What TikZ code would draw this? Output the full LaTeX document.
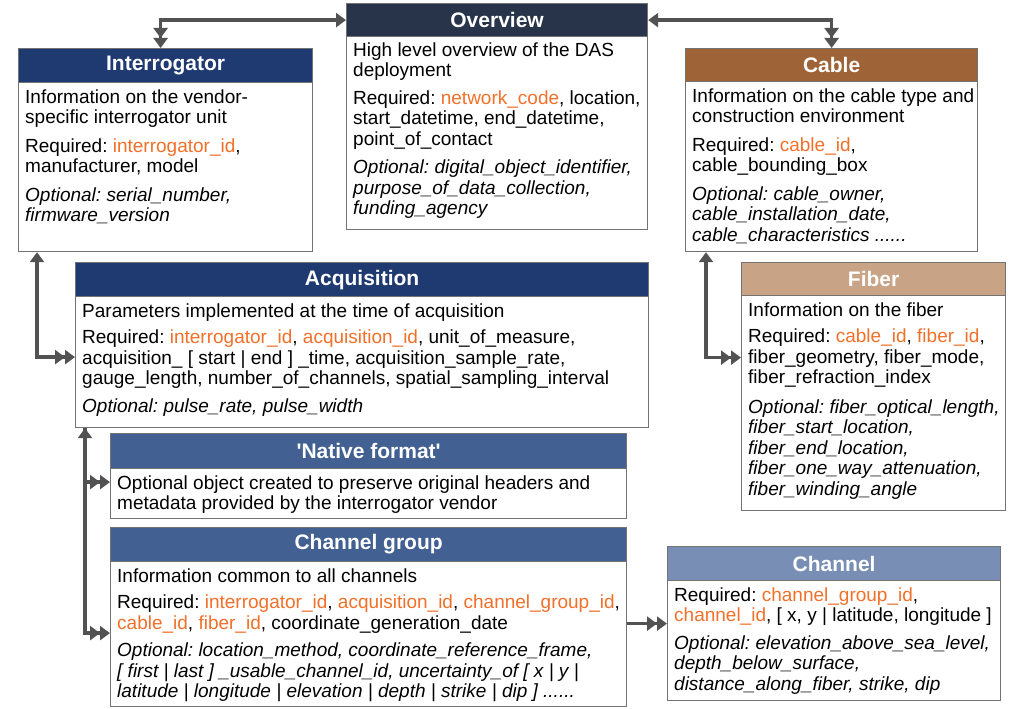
\documentclass[tikz,border=0pt]{standalone}
\usepackage{fontspec}
\setmainfont{Liberation Sans}[Ligatures=TeXOff]
\usetikzlibrary{arrows.meta}

\definecolor{navyhead}{RGB}{31,58,112}
\definecolor{slatehead}{RGB}{40,52,74}
\definecolor{cablehead}{RGB}{158,100,56}
\definecolor{fiberhead}{RGB}{201,163,134}
\definecolor{grouphead}{RGB}{66,96,146}
\definecolor{chanhead}{RGB}{120,142,180}
\definecolor{keyorange}{RGB}{242,112,42}
\definecolor{linkgray}{RGB}{82,82,82}
\definecolor{framegray}{RGB}{115,115,115}

\newcommand{\key}[1]{\textcolor{keyorange}{#1}}
\newcommand{\opt}[1]{\textit{#1}}
\frenchspacing

\begin{document}
\begin{tikzpicture}[x=1pt,y=1pt,>={Triangle[length=10pt,width=14pt]}]
\tikzstyle{every node}+=[inner sep=0pt]
\tikzstyle{frame}=[draw=framegray, line width=1.2pt, fill=white, anchor=north west]
\tikzstyle{head}=[draw=framegray, line width=1.2pt, anchor=north west, text=white, minimum height=34pt, font=\fontsize{21}{24}\selectfont\bfseries]
\tikzstyle{info}=[anchor=north west, align=left, font=\fontsize{19}{20.5}\selectfont]
\tikzstyle{link}=[draw=linkgray, line width=3.5pt]
\useasboundingbox (0,0) rectangle (1009,-709);
% Overview
\node[frame, minimum width=301pt, minimum height=226pt] (ov) at (346,-3) {};
\node[head, fill=slatehead, minimum width=301pt, minimum height=33pt] (ov-head) at (ov.north west) {Overview};
\node[info] (ov-text) at ([xshift=7,yshift=-5]ov-head.south west) {High level overview of the DAS\\
deployment\\[7pt]
Required: \key{network\_code}, location,\\
start\_datetime, end\_datetime,\\
point\_of\_contact\\[8pt]
\opt{Optional: digital\_object\_identifier,}\\
\opt{purpose\_of\_data\_collection,}\\
\opt{funding\_agency}};
% Interrogator
\node[frame, minimum width=294pt, minimum height=203pt] (int) at (18,-48) {};
\node[head, fill=navyhead, minimum width=294pt] (int-head) at (int.north west) {Interrogator};
\node[info] (int-text) at ([xshift=7,yshift=-6]int-head.south west) {Information on the vendor-\\
specific interrogator unit\\[8pt]
Required: \key{interrogator\_id},\\
manufacturer, model\\[8pt]
\opt{Optional: serial\_number,}\\
\opt{firmware\_version}};
% Cable
\node[frame, minimum width=292pt, minimum height=203pt] (cab) at (685,-48) {};
\node[head, fill=cablehead, minimum width=292pt, minimum height=33pt] (cab-head) at (cab.north west) {Cable};
\node[info] (cab-text) at ([xshift=7,yshift=-6]cab-head.south west) {Information on the cable type and\\
construction environment\\[8pt]
Required: \key{cable\_id},\\
cable\_bounding\_box\\[8pt]
\opt{Optional: cable\_owner,}\\
\opt{cable\_installation\_date,}\\
\opt{cable\_characteristics ......}};
% Acquisition
\node[frame, minimum width=573pt, minimum height=165pt] (acq) at (75,-262) {};
\node[head, fill=navyhead, minimum width=573pt] (acq-head) at (acq.north west) {Acquisition};
\node[info] (acq-text) at ([xshift=7,yshift=-6]acq-head.south west) {Parameters implemented at the time of acquisition\\[6pt]
Required: \key{interrogator\_id}, \key{acquisition\_id}, unit\_of\_measure,\\
acquisition\_ [ start | end ] \_time, acquisition\_sample\_rate,\\
gauge\_length, number\_of\_channels, spatial\_sampling\_interval\\[7pt]
\opt{Optional: pulse\_rate, pulse\_width}};
% Fiber
\node[frame, minimum width=264pt, minimum height=248pt] (fib) at (741,-262) {};
\node[head, fill=fiberhead, minimum width=264pt, minimum height=33pt] (fib-head) at (fib.north west) {Fiber};
\node[info] (fib-text) at ([xshift=7,yshift=-6]fib-head.south west) {Information on the fiber\\[6pt]
Required: \key{cable\_id}, \key{fiber\_id},\\
fiber\_geometry, fiber\_mode,\\
fiber\_refraction\_index\\[9pt]
\opt{Optional: fiber\_optical\_length,}\\
\opt{fiber\_start\_location,}\\
\opt{fiber\_end\_location,}\\
\opt{fiber\_one\_way\_attenuation,}\\
\opt{fiber\_winding\_angle}};
% Native format
\node[frame, minimum width=516pt, minimum height=85pt] (nat) at (110,-433) {};
\node[head, fill=grouphead, minimum width=516pt, minimum height=35pt] (nat-head) at (nat.north west) {'Native format'};
\node[info] (nat-text) at ([xshift=7,yshift=-6]nat-head.south west) {Optional object created to preserve original headers and\\
metadata provided by the interrogator vendor};
% Channel group
\node[frame, minimum width=516pt, minimum height=179pt] (cg) at (110,-527) {};
\node[head, fill=grouphead, minimum width=516pt] (cg-head) at (cg.north west) {Channel group};
\node[info] (cg-text) at ([xshift=7,yshift=-6]cg-head.south west) {Information common to all channels\\[6pt]
Required: \key{interrogator\_id}, \key{acquisition\_id}, \key{channel\_group\_id},\\
\key{cable\_id}, \key{fiber\_id}, coordinate\_generation\_date\\[7pt]
\opt{Optional: location\_method, coordinate\_reference\_frame,}\\
\opt{[ first | last ] \_usable\_channel\_id, uncertainty\_of [ x | y |}\\
\opt{latitude | longitude | elevation | depth | strike | dip ] ......}};
% Channel
\node[frame, minimum width=333pt, minimum height=154pt] (ch) at (667,-546) {};
\node[head, fill=chanhead, minimum width=333pt] (ch-head) at (ch.north west) {Channel};
\node[info] (ch-text) at ([xshift=7,yshift=-6]ch-head.south west) {Required: \key{channel\_group\_id},\\
\key{channel\_id}, [ x, y | latitude, longitude ]\\[7pt]
\opt{Optional: elevation\_above\_sea\_level,}\\
\opt{depth\_below\_surface,}\\
\opt{distance\_along\_fiber, strike, dip}};
% connectors
\draw[link,<->>] (ov-head.west) -| ([xshift=-5]int.north);
\draw[link,<->>] (ov-head.east) -| (cab.north);
\draw[link,<->>] ([xshift=19]int.south west) |- ([yshift=-12]acq.west);
\draw[link,->>] ([xshift=10]acq.south west) |- ([yshift=-6]nat.west);
\draw[link,<->>] ([xshift=10]acq.south west) |- ([yshift=-16]cg.west);
\draw[link,<->>] ([xshift=21]cab.south west) |- ([yshift=29]fib.west);
\draw[link,->>] (cg.east |- ch.west) -- (ch.west);
\end{tikzpicture}
\end{document}
